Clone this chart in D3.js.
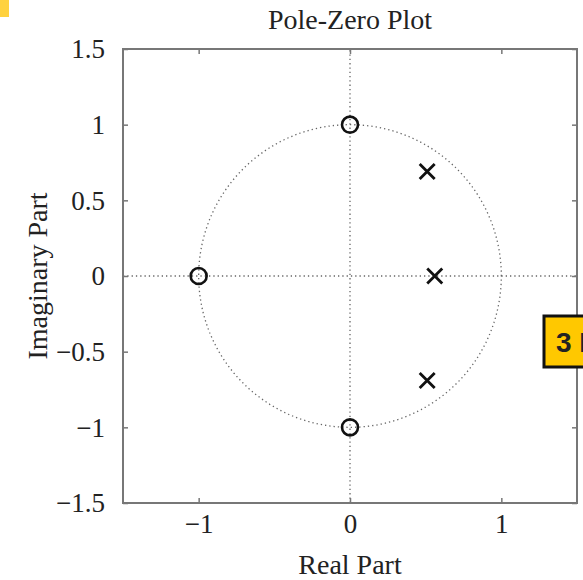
<!DOCTYPE html>
<html>
<head>
<meta charset="utf-8">
<script src="https://cdn.jsdelivr.net/npm/d3@7"></script>
<style>
  body { margin: 0; background: #fff; }
  svg { display: block; }
  text { font-family: "Liberation Serif", "DejaVu Serif", serif; fill: #222; }
</style>
</head>
<body>
<svg width="583" height="580"></svg>
<script>
// zeros and poles (real, imag)
let zerosRe = [0, 0, -1]
let zerosIm = [1, -1, 0]
let polesRe = [0.51, 0.56, 0.51]
let polesIm = [0.69, 0, -0.69]
let xTicks = [-1, 0, 1]
let yTicks = [-1.5, -1, -0.5, 0, 0.5, 1, 1.5]

let padL = 123, padT = 49, size = 454
let svg = d3.select('svg')

let x = d3.scaleLinear().domain([-1.5, 1.5]).range([padL, padL + size])
let y = d3.scaleLinear().domain([-1.5, 1.5]).range([padT + size, padT])

let fmt = d => d < 0 ? '\u2212' + Math.abs(d) : '' + d

// dotted unit circle and axes
let circ = d3.range(0, 361, 2).map(a => [Math.cos(a * Math.PI / 180), Math.sin(a * Math.PI / 180)])
svg.append('path')
    .attr('d', d3.line().x(d => x(d[0])).y(d => y(d[1]))(circ))
    .attr('fill', 'none')
    .attr('stroke', '#666')
    .attr('stroke-width', 1.3)
    .attr('stroke-dasharray', '1.3,3')
svg.append('line')
    .attr('x1', x(-1.5)).attr('x2', x(1.5)).attr('y1', y(0)).attr('y2', y(0))
    .attr('stroke', '#666').attr('stroke-width', 1.3).attr('stroke-dasharray', '1.3,3')
svg.append('line')
    .attr('x1', x(0)).attr('x2', x(0)).attr('y1', y(-1.5)).attr('y2', y(1.5))
    .attr('stroke', '#666').attr('stroke-width', 1.3).attr('stroke-dasharray', '1.3,3')

// axes with inward ticks on all four sides
let axes = [
    d3.axisBottom(x).tickValues(xTicks).tickSize(-5).tickFormat(fmt),
    d3.axisTop(x).tickValues(xTicks).tickSize(-5).tickFormat(''),
    d3.axisLeft(y).tickValues(yTicks).tickSize(-5).tickFormat(fmt),
    d3.axisRight(y).tickValues(yTicks).tickSize(-5).tickFormat('')
]
let pos = ['translate(0,' + (padT + size) + ')', 'translate(0,' + padT + ')',
    'translate(' + padL + ',0)', 'translate(' + (padL + size) + ',0)']
axes.forEach((a, i) => {
    let g = svg.append('g').attr('transform', pos[i]).call(a)
    g.select('.domain').remove()
    g.selectAll('line').attr('stroke', '#777').attr('stroke-width', 1.5)
    g.selectAll('text').attr('font-size', 27).attr('fill', '#222')
        .style('font-family', '"Liberation Serif", serif')
    if (i == 0) g.selectAll('text').attr('y', 30).attr('dy', 0)
    if (i == 2) g.selectAll('text').attr('x', -18).attr('dy', '0.33em')
})

svg.append('rect')
    .attr('x', padL).attr('y', padT).attr('width', size).attr('height', size)
    .attr('fill', 'none').attr('stroke', '#777').attr('stroke-width', 2)

// zeros
svg.selectAll('circle.zero')
    .data(zerosRe)
    .enter()
    .append('circle')
    .attr('class', 'zero')
    .attr('cx', d => x(d))
    .attr('cy', (d, i) => y(zerosIm[i]))
    .attr('r', 8)
    .attr('fill', 'none')
    .attr('stroke', '#111')
    .attr('stroke-width', 2.6)

// poles
let s = 7.5
svg.selectAll('path.pole')
    .data(polesRe)
    .enter()
    .append('path')
    .attr('class', 'pole')
    .attr('d', (d, i) => {
        let cx = x(d), cy = y(polesIm[i])
        return 'M' + (cx - s) + ',' + (cy - s) + 'L' + (cx + s) + ',' + (cy + s) +
            'M' + (cx - s) + ',' + (cy + s) + 'L' + (cx + s) + ',' + (cy - s)
    })
    .attr('stroke', '#111')
    .attr('stroke-width', 2.8)

// titles
svg.append('text')
    .text('Pole-Zero Plot')
    .attr('x', x(0)).attr('y', 29)
    .attr('text-anchor', 'middle')
    .attr('font-size', 28)
svg.append('text')
    .text('Real Part')
    .attr('x', x(0)).attr('y', 574)
    .attr('text-anchor', 'middle')
    .attr('font-size', 28)
svg.append('text')
    .text('Imaginary Part')
    .attr('transform', 'translate(47,' + y(0) + ') rotate(-90)')
    .attr('text-anchor', 'middle')
    .attr('font-size', 28)

// overlay marks from the screenshot
svg.append('rect')
    .attr('x', 0).attr('y', 0).attr('width', 9).attr('height', 17)
    .attr('fill', '#FFD23F')
svg.append('rect')
    .attr('x', 544).attr('y', 316).attr('width', 50).attr('height', 51)
    .attr('fill', '#FFC800').attr('stroke', '#111').attr('stroke-width', 3)
svg.append('text')
    .text('3 I')
    .attr('x', 556).attr('y', 352)
    .attr('font-size', 28)
    .attr('font-weight', 'bold')
    .style('font-family', '"Liberation Sans", Arial, sans-serif')
    .attr('fill', '#111')
</script>
</body>
</html>
